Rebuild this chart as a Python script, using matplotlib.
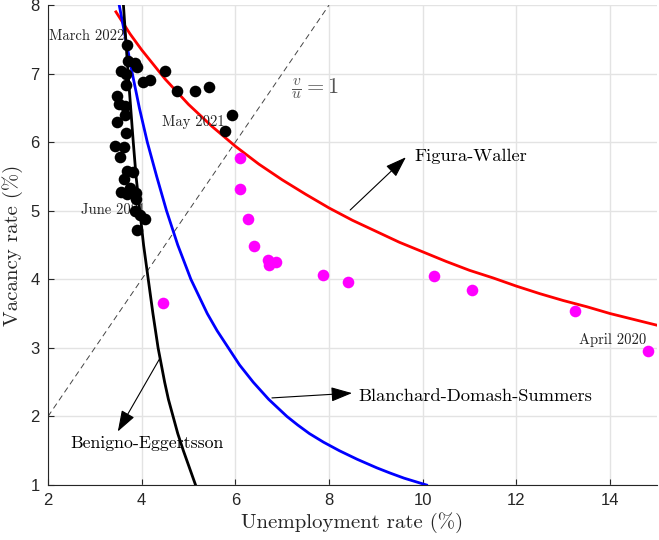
import matplotlib
matplotlib.use("Agg")
import matplotlib.pyplot as plt

# ---- data ----
# Post-2021 observations (black)
black_u = [3.68, 3.70, 3.86, 3.91, 3.55, 3.66, 4.50, 4.02, 4.18, 3.66, 4.76, 5.14,
           5.44, 3.48, 3.52, 3.65, 3.64, 3.47, 5.93, 5.78, 3.66, 3.44, 3.62, 3.54,
           3.68, 3.81, 3.62, 3.75, 3.55, 3.68, 3.88, 3.88, 3.86, 3.96, 4.08, 3.89]
black_v = [7.42, 7.18, 7.15, 7.09, 7.04, 7.00, 7.04, 6.88, 6.90, 6.83, 6.74, 6.75,
           6.80, 6.67, 6.55, 6.52, 6.39, 6.29, 6.40, 6.16, 6.14, 5.95, 5.93, 5.79,
           5.58, 5.57, 5.46, 5.33, 5.27, 5.25, 5.26, 5.17, 5.00, 4.94, 4.88, 4.72]
# 2020-2021 observations (magenta)
mag_u = [4.45, 6.10, 6.09, 6.27, 6.39, 6.69, 6.72, 6.87, 7.87, 8.41, 10.25, 11.06, 13.26, 14.80]
mag_v = [3.66, 5.77, 5.31, 4.88, 4.49, 4.28, 4.21, 4.25, 4.06, 3.96, 4.05, 3.85, 3.54, 2.96]

# Beveridge curves
fw_u = [3.45, 3.75, 4.0, 4.5, 5.0, 5.5, 6.0, 6.5, 7.0, 7.5, 8.0, 8.5, 9.0, 9.5,
        10.0, 10.5, 11.0, 11.5, 12.0, 12.5, 13.0, 13.5, 14.0, 14.5, 15.0]
fw_v = [7.90, 7.58, 7.345, 6.92, 6.55, 6.23, 5.94, 5.68, 5.45, 5.24, 5.04, 4.86, 4.70, 4.54,
        4.40, 4.26, 4.13, 4.02, 3.90, 3.79, 3.69, 3.60, 3.50, 3.415, 3.33]

bds_u = [3.52, 3.66, 3.80, 3.95, 4.12, 4.32, 4.53, 4.77, 5.05, 5.40, 5.61, 5.85, 6.09, 6.38,
         6.71, 7.10, 7.33, 7.58, 7.88, 8.22, 8.60, 9.02, 9.30, 9.60, 10.08]
bds_v = [8.00, 7.50, 7.00, 6.50, 6.00, 5.50, 5.00, 4.50, 4.00, 3.50, 3.25, 3.00, 2.75, 2.50,
         2.25, 2.00, 1.875, 1.75, 1.625, 1.50, 1.375, 1.25, 1.175, 1.10, 1.00]

be_u = [3.61, 3.66, 3.71, 3.765, 3.82, 3.88, 3.96, 4.04, 4.14, 4.24, 4.35, 4.42, 4.49,
        4.57, 4.67, 4.77, 4.89, 5.02, 5.15]
be_v = [8.0, 7.5, 7.0, 6.5, 6.0, 5.5, 5.0, 4.5, 4.0, 3.5, 3.0, 2.75, 2.5,
        2.25, 2.0, 1.75, 1.5, 1.25, 1.0]

ratio_line = [2, 8]

x_ticks = [2, 4, 6, 8, 10, 12, 14]
y_ticks = [1, 2, 3, 4, 5, 6, 7, 8]

plt.rcParams['mathtext.fontset'] = 'cm'
SERIF = 'cmr10'
SANS = 'Liberation Sans'

fig = plt.figure(figsize=(6.59, 5.40), dpi=100)
ax = fig.add_axes([48 / 659, 55 / 540, 609 / 659, 480 / 540])

ax.set_xlim(2, 15)
ax.set_ylim(1, 8)
ax.set_xticks(x_ticks)
ax.set_yticks(y_ticks)
ax.grid(True, color='#e3e3e3', linewidth=1.0)
ax.set_axisbelow(True)
for s in ['top', 'right']:
    ax.spines[s].set_visible(False)
for s in ['left', 'bottom']:
    ax.spines[s].set_color('#262626')
    ax.spines[s].set_linewidth(0.8)
ax.tick_params(direction='in', length=4, width=0.8, color='#262626',
               labelsize=12, labelcolor='#262626', pad=6)
for lab in ax.get_xticklabels() + ax.get_yticklabels():
    lab.set_fontfamily(SANS)

# v/u = 1 line
ax.plot(ratio_line, ratio_line, linestyle=(0, (6, 4)), color='#444444', linewidth=0.7, zorder=2)

# curves
ax.plot(fw_u, fw_v, color='#ff0000', linewidth=2.0, zorder=3, solid_joinstyle='round')
ax.plot(bds_u, bds_v, color='#0000ff', linewidth=2.0, zorder=3, solid_joinstyle='round')
ax.plot(be_u, be_v, color='black', linewidth=2.0, zorder=3, solid_joinstyle='round')

# observations
ax.scatter(black_u, black_v, s=70, color='black', zorder=4, linewidths=0)
ax.scatter(mag_u, mag_v, s=70, color='#ff00ff', zorder=4, linewidths=0)

# point labels
lab_fs = 10.5
ax.text(3.64, 7.55, 'March 2022', family=SERIF, fontsize=lab_fs, ha='right', va='center', color='#222222')
ax.text(5.10, 6.29, 'May 2021', family=SERIF, fontsize=lab_fs, ha='center', va='center', color='#222222')
ax.text(3.39, 5.01, 'June 2021', family=SERIF, fontsize=lab_fs, ha='center', va='center', color='#222222')
ax.text(14.06, 3.11, 'April 2020', family=SERIF, fontsize=lab_fs, ha='center', va='center', color='#222222')
ax.text(7.18, 6.78, r'$\frac{v}{u}=1$', fontsize=16, ha='left', va='center', color='#555555')

arrow = dict(arrowstyle='-|>,head_length=1.3,head_width=0.45', color='black',
             linewidth=0.8, shrinkA=0, shrinkB=0)
ann_fs = 13.3
ax.annotate('', xy=(9.64, 5.78), xytext=(8.45, 5.01), arrowprops=arrow, zorder=5)
ax.text(9.83, 5.80, 'Figura-Waller', family=SERIF, fontsize=ann_fs, ha='left', va='center')
ax.annotate('', xy=(8.49, 2.34), xytext=(6.78, 2.27), arrowprops=arrow, zorder=5)
ax.text(8.62, 2.29, 'Blanchard-Domash-Summers', family=SERIF, fontsize=ann_fs, ha='left', va='center')
ax.annotate('', xy=(3.49, 1.78), xytext=(4.39, 2.85), arrowprops=arrow, zorder=5)
ax.text(2.47, 1.61, 'Benigno-Eggertsson', family=SERIF, fontsize=12.8, ha='left', va='center')

ax.set_xlabel('Unemployment rate (%)', family=SERIF, fontsize=15, color='#262626', labelpad=3)
ax.set_ylabel('Vacancy rate (%)', family=SERIF, fontsize=15, color='#262626', labelpad=5)

fig.savefig('out.png', dpi=100)
